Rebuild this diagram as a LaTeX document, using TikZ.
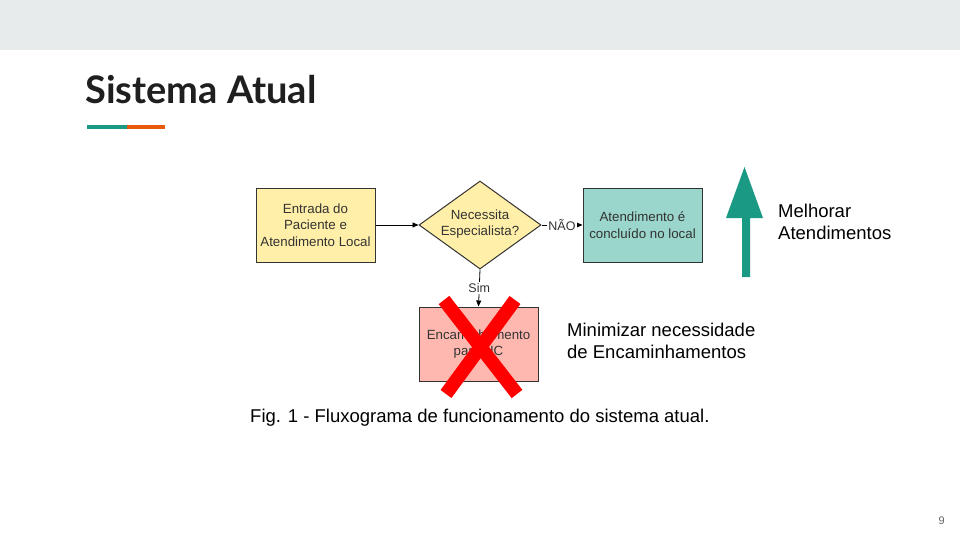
\documentclass[tikz,border=0pt]{standalone}
\usepackage{fontspec}
\setmainfont{Liberation Sans}
\newfontfamily\titlefont{Lato}
\usetikzlibrary{shapes.geometric,arrows.meta}
\definecolor{bandgray}{HTML}{E8EBEC}
\definecolor{teal}{HTML}{1A9A84}
\definecolor{accorange}{HTML}{E8590C}
\definecolor{boxyellow}{HTML}{FFEFA8}
\definecolor{boxteal}{HTML}{9AD6CB}
\definecolor{boxpink}{HTML}{FFB8B0}
\definecolor{edgegray}{HTML}{333333}
\definecolor{txtgray}{HTML}{333333}
\begin{document}
\begin{tikzpicture}[x=1pt,y=-1pt,
  flowbox/.style={draw=edgegray,line width=1pt,minimum width=119pt,minimum height=74pt,
    align=center,text=txtgray,font=\fontsize{13.3}{16.5}\selectfont,inner sep=2pt},
  decision/.style={diamond,draw=edgegray,line width=1pt,fill=boxyellow,minimum width=122pt,
    minimum height=88pt,inner sep=0pt},
  flowtext/.style={align=center,text=txtgray,font=\fontsize{13.3}{16.5}\selectfont,inner sep=0pt},
  link/.style={draw=black,line width=0.8pt,-{Triangle[length=6pt,width=5pt]}},
  smalllabel/.style={font=\fontsize{12.5}{14}\selectfont,text=txtgray,fill=white,inner sep=1pt},
  bodytext/.style={font=\fontsize{18.5}{22}\selectfont,align=left,anchor=base west,inner sep=0pt}]
  \useasboundingbox (0,0) rectangle (960,540);
  \fill[white] (0,0) rectangle (960,540);
  \fill[bandgray] (0,0) rectangle (960,50);

  % title and accent bar
  \node[anchor=base west,inner sep=0pt,font=\titlefont\bfseries\fontsize{38}{44}\selectfont,text=black!88]
    (title) at (85,104) {Sistema Atual};
  \fill[teal] (87,125) rectangle (127,129);
  \fill[accorange] (127,125) rectangle (165,129);

  % flowchart
  \node[flowbox,fill=boxyellow] (entry) at (315.5,225) {Entrada do\\Paciente e\\Atendimento Local};
  \node[decision] (ask) at (480,225) {};
  \node[flowtext] (asktext) at (480,224) {Necessita\\Especialista?};
  \node[flowbox,fill=boxteal] (local) at (642.5,225) {Atendimento é\\concluído no local};
  \node[flowbox,fill=boxpink] (refer) at (478.5,344) {Encaminhamento\\para HC};

  \draw[link] (entry) -- (ask);
  \draw[link] (ask.east) -- node[smalllabel] {NÃO} (local.west);
  \draw[link] (ask.south) -- node[smalllabel,pos=0.5] {Sim} (refer.north);

  % red cross over the referral step
  \coordinate (xa) at (444,300);
  \coordinate (xb) at (517,394);
  \coordinate (xc) at (515,300);
  \coordinate (xd) at (446,394);
  \draw[red,line width=13.5pt] (xa) -- (xb);
  \draw[red,line width=13.5pt] (xc) -- (xd);

  % upward arrow
  \fill[teal] (742,277) -- (750,277) -- (750,218) -- (763,218) -- (744.5,167) -- (726,218) -- (742,218) -- cycle;

  \node[bodytext] (better) at (778,217) {Melhorar};
  \node[bodytext] (better2) at (778,239) {Atendimentos};
  \node[bodytext] (less) at (567,336) {Minimizar necessidade};
  \node[bodytext] (less2) at (567,358) {de Encaminhamentos};
  \node[anchor=base west,inner sep=0pt,font=\fontsize{18.5}{22}\selectfont] (caption) at (250,422)
    {Fig. 1 - Fluxograma de funcionamento do sistema atual.};
  \node[anchor=base east,inner sep=0pt,font=\fontsize{11}{13}\selectfont,text=black!60] (page) at (945,524) {9};
\end{tikzpicture}
\end{document}
